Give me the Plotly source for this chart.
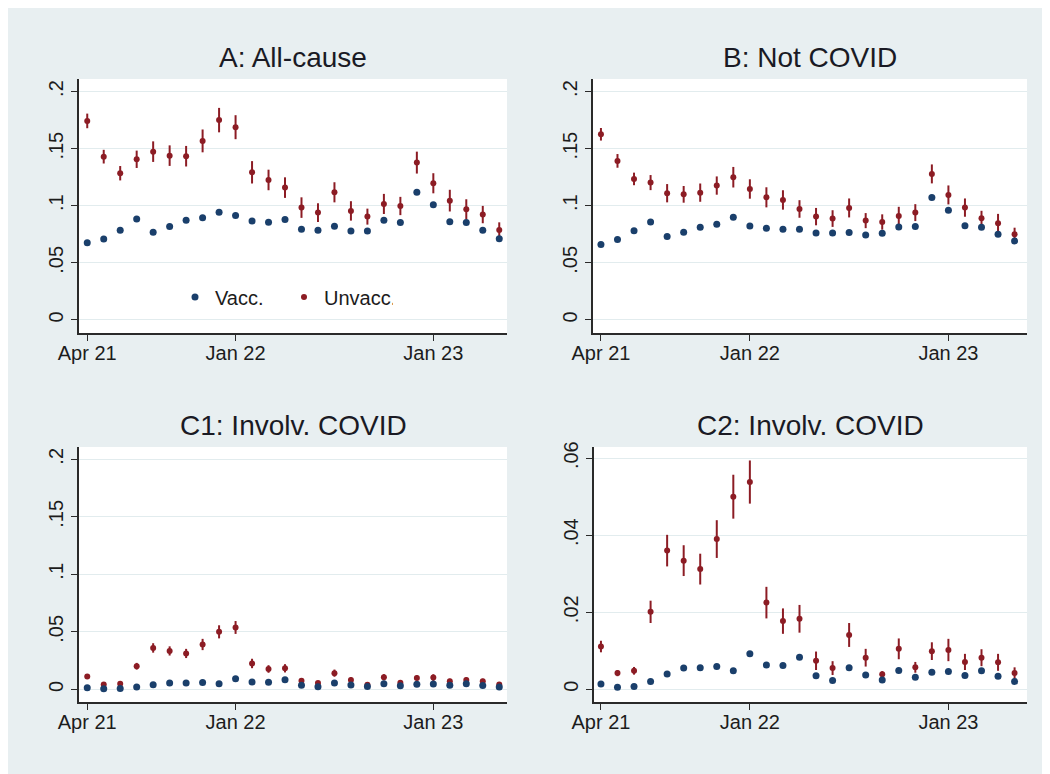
import plotly.graph_objects as go

# ---------------- data ----------------
months = ["2021-04", "2021-05", "2021-06", "2021-07", "2021-08", "2021-09", "2021-10",
          "2021-11", "2021-12", "2022-01", "2022-02", "2022-03", "2022-04", "2022-05",
          "2022-06", "2022-07", "2022-08", "2022-09", "2022-10", "2022-11", "2022-12",
          "2023-01", "2023-02", "2023-03", "2023-04", "2023-05"]
x_tick_pos = [0, 9, 21]
x_tick_text = ["Apr 21", "Jan 22", "Jan 23"]

y_ticks_02 = [0, 0.05, 0.1, 0.15, 0.2]
y_text_02 = ["0", ".05", ".1", ".15", ".2"]
y_ticks_006 = [0, 0.02, 0.04, 0.06]
y_text_006 = ["0", ".02", ".04", ".06"]

# A: All-cause
a_vacc = [0.0677, 0.0710, 0.0785, 0.0885, 0.0768, 0.0818, 0.0873, 0.0896, 0.0943, 0.0914,
          0.0867, 0.0855, 0.0879, 0.0794, 0.0785, 0.0820, 0.0780, 0.0780, 0.0873, 0.0853,
          0.1118, 0.1010, 0.0861, 0.0853, 0.0785, 0.0712]
a_unvacc = [0.1743, 0.1430, 0.1285, 0.1407, 0.1474, 0.1439, 0.1434, 0.1568, 0.1750, 0.1688,
            0.1293, 0.1226, 0.1159, 0.0984, 0.0940, 0.1118, 0.0955, 0.0905, 0.1016, 0.0998,
            0.1378, 0.1197, 0.1045, 0.0969, 0.0923, 0.0788]
a_unvacc_ci = [0.0064, 0.0060, 0.0063, 0.0076, 0.0090, 0.0090, 0.0090, 0.0100, 0.0107, 0.0105,
               0.0098, 0.0090, 0.0090, 0.0090, 0.0082, 0.0088, 0.0085, 0.0070, 0.0088, 0.0080,
               0.0096, 0.0088, 0.0095, 0.0088, 0.0076, 0.0067]
a_vacc_ci = [0.0012] * 26

# B: Not COVID
b_vacc = [0.0660, 0.0704, 0.0782, 0.0858, 0.0730, 0.0768, 0.0812, 0.0838, 0.0899, 0.0823,
          0.0803, 0.0794, 0.0794, 0.0762, 0.0762, 0.0765, 0.0745, 0.0759, 0.0815, 0.0818,
          0.1072, 0.0961, 0.0826, 0.0812, 0.0750, 0.0692]
b_unvacc = [0.1626, 0.1393, 0.1235, 0.1203, 0.1110, 0.1100, 0.1115, 0.1177, 0.1250, 0.1147,
            0.1074, 0.1051, 0.0972, 0.0905, 0.0888, 0.0981, 0.0870, 0.0858, 0.0911, 0.0940,
            0.1279, 0.1095, 0.0984, 0.0890, 0.0847, 0.0750]
b_unvacc_ci = [0.0055, 0.0060, 0.0055, 0.0066, 0.0080, 0.0073, 0.0080, 0.0080, 0.0090, 0.0085,
               0.0088, 0.0085, 0.0077, 0.0076, 0.0073, 0.0083, 0.0066, 0.0067, 0.0080, 0.0074,
               0.0083, 0.0083, 0.0080, 0.0066, 0.0082, 0.0058]
b_vacc_ci = [0.0012] * 26

# C: Involving COVID (shown on two scales)
c_vacc = [0.0014, 0.0005, 0.0007, 0.0020, 0.0040, 0.0055, 0.0056, 0.0059, 0.0048, 0.0092,
          0.0063, 0.0062, 0.0083, 0.0035, 0.0023, 0.0056, 0.0037, 0.0024, 0.0049, 0.0031,
          0.0044, 0.0046, 0.0036, 0.0048, 0.0034, 0.0020]
c_unvacc = [0.0111, 0.0042, 0.0048, 0.0201, 0.0360, 0.0334, 0.0312, 0.0390, 0.0500, 0.0538,
            0.0225, 0.0177, 0.0183, 0.0074, 0.0055, 0.0141, 0.0082, 0.0039, 0.0105, 0.0057,
            0.0099, 0.0102, 0.0071, 0.0082, 0.0070, 0.0042]
c_unvacc_ci = [0.0015, 0.0008, 0.0010, 0.0029, 0.0041, 0.0040, 0.0040, 0.0049, 0.0057, 0.0056,
               0.0041, 0.0033, 0.0036, 0.0024, 0.0018, 0.0031, 0.0023, 0.0008, 0.0027, 0.0014,
               0.0023, 0.0029, 0.0021, 0.0022, 0.0022, 0.0015]
c_vacc_ci = [0.0004] * 26

titles = ["A: All-cause", "B: Not COVID", "C1: Involv. COVID", "C2: Involv. COVID"]
legend_names = ["Vacc.", "Unvacc."]

# ---------------- style ----------------
OFF = 8                      # page body margin
W, H = 1050 - OFF, 774 - OFF
NAVY = "#1a3f6b"
MAROON = "#8c1c24"
BG = "#e8eff1"
GRID = "#e2ecee"
AXIS = "#2a2a2a"
FONT = "Liberation Sans, Arial, sans-serif"


def fx(px):
    return (px - OFF) / W


def fy(py):
    return 1 - (py - OFF) / H


xi = list(range(len(months)))

# panel pixel boxes in window coords: (left, right, top, bottom), x range
panels = [
    dict(box=(79, 507, 79, 333), xr=(-0.5, 25.47), yr=(-0.0114, 0.211), yt=(y_ticks_02, y_text_02),
         v=a_vacc, vc=a_vacc_ci, u=a_unvacc, uc=a_unvacc_ci),
    dict(box=(593, 1027, 79, 333), xr=(-0.48, 25.75), yr=(-0.0114, 0.211), yt=(y_ticks_02, y_text_02),
         v=b_vacc, vc=b_vacc_ci, u=b_unvacc, uc=b_unvacc_ci),
    dict(box=(79, 507, 447, 702), xr=(-0.5, 25.47), yr=(-0.011, 0.2107), yt=(y_ticks_02, y_text_02),
         v=c_vacc, vc=c_vacc_ci, u=c_unvacc, uc=c_unvacc_ci),
    dict(box=(594, 1027, 447, 702), xr=(-0.42, 25.75), yr=(-0.0033, 0.0629), yt=(y_ticks_006, y_text_006),
         v=c_vacc, vc=c_vacc_ci, u=c_unvacc, uc=c_unvacc_ci),
]

fig = go.Figure()
layout = {}
annotations = []
shapes = []
for i, p in enumerate(panels):
    n = "" if i == 0 else str(i + 1)
    xa, ya = "x" + n, "y" + n
    l, r, t, b = p["box"]
    fig.add_trace(go.Scatter(
        x=xi, y=p["u"], mode="markers", name=legend_names[1], xaxis=xa, yaxis=ya,
        marker=dict(color=MAROON, size=6),
        error_y=dict(type="data", array=p["uc"], color=MAROON, thickness=2, width=0),
        showlegend=(i == 0), legendrank=2, hoverinfo="skip"))
    fig.add_trace(go.Scatter(
        x=xi, y=p["v"], mode="markers", name=legend_names[0], xaxis=xa, yaxis=ya,
        marker=dict(color=NAVY, size=7),
        error_y=dict(type="data", array=p["vc"], color=NAVY, thickness=2, width=0),
        showlegend=(i == 0), legendrank=1, hoverinfo="skip"))
    layout["xaxis" + n] = dict(
        domain=[fx(l), fx(r)], range=list(p["xr"]), anchor=ya, automargin=False,
        tickvals=x_tick_pos, ticktext=x_tick_text, ticks="outside", ticklen=6,
        ticklabelstandoff=-5,
        tickcolor=AXIS, tickwidth=1.3, showline=True, linecolor=AXIS, linewidth=1.5,
        showgrid=False, zeroline=False,
        tickfont=dict(family=FONT, size=20, color="#1c1c1c"))
    layout["yaxis" + n] = dict(
        domain=[fy(b), fy(t)], range=list(p["yr"]), anchor=xa, automargin=False,
        tickvals=p["yt"][0], ticktext=p["yt"][1], tickangle=-90, ticks="outside", ticklen=6,
        tickcolor=AXIS, tickwidth=1.3, showline=True, linecolor=AXIS, linewidth=1.5,
        showgrid=True, gridcolor=GRID, gridwidth=1.2, zeroline=False,
        tickfont=dict(family=FONT, size=20, color="#1c1c1c"))
    annotations.append(dict(
        text=titles[i], xref="paper", yref="paper", x=fx((l + r) / 2),
        y=fy(t - 21), xanchor="center", yanchor="middle", showarrow=False,
        font=dict(family=FONT, size=28, color="#1a1a24")))
    shapes.append(dict(type="rect", xref="paper", yref="paper", x0=fx(l), x1=fx(r),
                       y0=fy(b), y1=fy(t), fillcolor="white", line=dict(width=0),
                       layer="below"))

fig.update_layout(
    width=W, height=H, margin=dict(l=0, r=0, t=0, b=0, autoexpand=False),
    paper_bgcolor=BG, plot_bgcolor="rgba(0,0,0,0)",
    shapes=shapes, annotations=annotations,
    legend=dict(orientation="h", x=fx(175), y=fy(297), xanchor="left", yanchor="middle",
                entrywidth=64, entrywidthmode="pixels",
                bgcolor="rgba(0,0,0,0)", font=dict(family=FONT, size=20, color="#1c1c1c"),
                traceorder="normal", itemsizing="trace"),
    **layout)

fig.write_html("out.html")
